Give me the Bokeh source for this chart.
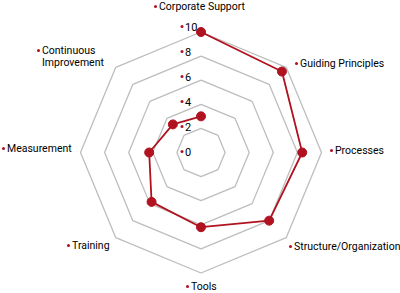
import math
from bokeh.plotting import figure
from bokeh.models import Range1d
from bokeh.core.properties import value
from bokeh.embed import file_html
from bokeh.resources import INLINE

# ---- data ----
categories = ["Corporate Support", "Guiding Principles", "Processes",
              "Structure/Organization", "Tools", "Training", "Measurement",
              "Continuous Improvement"]
values = [10, 9.5, 8.4, 8.0, 6.2, 5.8, 4.3, 3.3]
closing_value = 3.0          # the unclosed line ends back on "Corporate Support"
tick_values = [0, 2, 4, 6, 8, 10]
tick_labels = ["0", "2", "4", "6", "8", "10"]
ring_values = [2, 4, 6, 8, 10]

# ---- layout ----
W, H = 400, 293
S = 12.05            # px per unit
CX, CY = 200.5, 152  # screen centre

def to_data(X, Y):
    return (X - CX) / S, (CY - Y) / S

p = figure(width=W, height=H, output_backend="svg", toolbar_location=None,
           x_range=Range1d(-CX / S, (W - CX) / S),
           y_range=Range1d(-(H - CY) / S, CY / S),
           min_border=0, outline_line_color=None)
p.axis.visible = False
p.grid.visible = False
p.background_fill_color = "white"
p.border_fill_color = "white"

n = len(categories)
angles = [math.pi / 2 - 2 * math.pi * i / n for i in range(n)]

# rings
xs, ys = [], []
for r in ring_values:
    xs.append([r * math.cos(a) for a in angles] + [r * math.cos(angles[0])])
    ys.append([r * math.sin(a) for a in angles] + [r * math.sin(angles[0])])
p.multi_line(xs, ys, line_color="#bdbdbd", line_width=1.3)

# data line
line_vals = values + [closing_value]
line_angles = angles + [angles[0]]
lx = [v * math.cos(a) for v, a in zip(line_vals, line_angles)]
ly = [v * math.sin(a) for v, a in zip(line_vals, line_angles)]
RED = "#b0121f"
p.line(lx, ly, line_color=RED, line_width=1.8)
p.scatter(lx, ly, size=9, fill_color=RED, line_color=RED)

FONT = value("Roboto")
FS = "10.5px"
TXT = "#000000"

# tick labels (left of vertical axis)
tx, ty, dx_, dy_ = [], [], [], []
for v in tick_values:
    Y = 151 - 12.5 * v
    x0, y0 = to_data(184.5, Y)
    d0, e0 = to_data(181.5, Y)
    tx.append(x0); ty.append(y0); dx_.append(d0); dy_.append(e0)
p.scatter(dx_, dy_, size=3, fill_color=RED, line_color=None)
p.text(tx, ty, text=tick_labels, text_font=FONT, text_font_size="11px",
       text_color=TXT, text_baseline="middle", text_align="left")

# category labels: bullet position in screen px (layout)
label_pos = [(155, 6), (296, 63), (331, 150), (290, 246), (187, 286),
             (68, 245), (3, 148), (38, 50)]
cx_, cy_, bx_, by_, texts = [], [], [], [], []
for name, (X, Y) in zip(categories, label_pos):
    d0, e0 = to_data(X, Y)
    bx_.append(d0); by_.append(e0)
    lines = name.split(" ") if name == "Continuous Improvement" else [name]
    for k, t in enumerate(lines):
        x0, y0 = to_data(X + 3.5, Y + 12 * k)
        cx_.append(x0); cy_.append(y0); texts.append(t)
p.scatter(bx_, by_, size=3, fill_color=RED, line_color=None)
p.text(cx_, cy_, text=texts, text_font=FONT, text_font_size=FS,
       text_color=TXT, text_baseline="middle", text_align="left")

open("out.html", "w").write(file_html(p, INLINE))
